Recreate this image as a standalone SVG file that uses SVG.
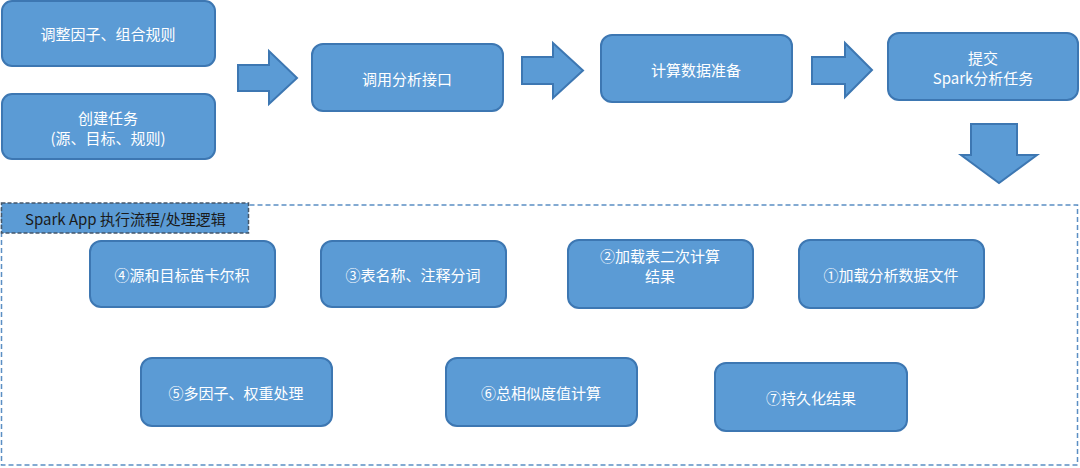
<svg xmlns="http://www.w3.org/2000/svg" width="1080" height="468" viewBox="0 0 1080 468">
<style>
.n{fill:#5b9bd5;stroke:#3d77b2;stroke-width:2}
.t{fill:#ffffff;font-family:"Noto Sans CJK SC","Microsoft YaHei",sans-serif;font-size:15px;text-anchor:middle;dominant-baseline:central}
.ar{fill:#5b9bd5;stroke:#3d77b2;stroke-width:2;stroke-linejoin:miter}
.box{fill:none;stroke:#5b8fc4;stroke-width:1.5;stroke-dasharray:5 3}
.lab{fill:#5b9bd5;stroke:#44576b;stroke-width:1.5;stroke-dasharray:4 2}
.lt{fill:#1a1a1a;font-family:"Noto Sans CJK SC","Microsoft YaHei",sans-serif;font-size:15px;dominant-baseline:central}
</style>
<rect width="1080" height="468" fill="#ffffff"/>
<g id="container">
<rect class="box" x="1.5" y="205" width="1076" height="260"/>
<rect class="lab" x="1.5" y="203" width="247" height="30"/>
<text class="lt" x="25" y="218">Spark App 执行流程/处理逻辑</text>
</g>
<g id="connectors">
<path class="ar" d="M238,65 H269 V51 L297,78 L269,104 V91 H238 Z"/>
<path class="ar" d="M522,57 H553 V43 L583,70.5 L553,98 V84 H522 Z"/>
<path class="ar" d="M812,57 H845 V43 L872,70 L845,97 V84 H812 Z"/>
<path class="ar" d="M971,124 H1017 V155 H1037 L999,183 L961,155 H971 Z"/>
</g>
<g id="nodeA"><rect class="n" x="2" y="1" width="213" height="65" rx="10"/><text class="t" x="108" y="33">调整因子、组合规则</text></g>
<g id="nodeB"><rect class="n" x="2" y="94" width="213" height="65" rx="10"/><text class="t" x="108" y="117">创建任务</text><text class="t" x="108" y="137">(源、目标、规则)</text></g>
<g id="nodeC"><rect class="n" x="312" y="44" width="191" height="67" rx="11"/><text class="t" x="407" y="78">调用分析接口</text></g>
<g id="nodeD"><rect class="n" x="601" y="35" width="191" height="67" rx="11"/><text class="t" x="696" y="69">计算数据准备</text></g>
<g id="nodeE"><rect class="n" x="888" y="33" width="190" height="67" rx="11"/><text class="t" x="983" y="57">提交</text><text class="t" x="983" y="77">Spark分析任务</text></g>
<g id="node4"><rect class="n" x="90" y="241" width="185" height="66" rx="11"/><text class="t" x="182" y="274">④源和目标笛卡尔积</text></g>
<g id="node3"><rect class="n" x="321" y="241" width="185" height="66" rx="11"/><text class="t" x="413" y="274">③表名称、注释分词</text></g>
<g id="node2"><rect class="n" x="568" y="240" width="185" height="68" rx="11"/><text class="t" x="660" y="255">②加载表二次计算</text><text class="t" x="660" y="275">结果</text></g>
<g id="node1"><rect class="n" x="799" y="240" width="185" height="68" rx="11"/><text class="t" x="891" y="274">①加载分析数据文件</text></g>
<g id="node5"><rect class="n" x="141" y="358" width="191" height="68" rx="11"/><text class="t" x="236" y="392">⑤多因子、权重处理</text></g>
<g id="node6"><rect class="n" x="446" y="358" width="191" height="68" rx="11"/><text class="t" x="541" y="392">⑥总相似度值计算</text></g>
<g id="node7"><rect class="n" x="715" y="363" width="192" height="68" rx="11"/><text class="t" x="811" y="397">⑦持久化结果</text></g>
</svg>
